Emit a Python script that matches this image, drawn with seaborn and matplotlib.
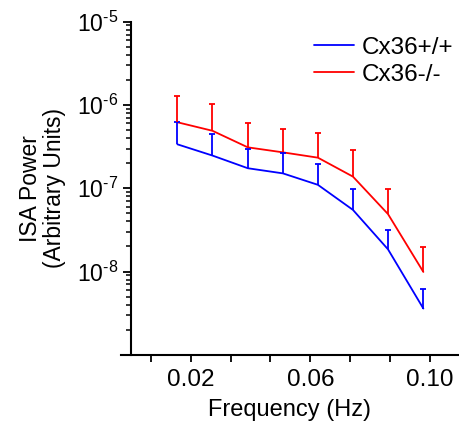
import numpy as np
import pandas as pd
import matplotlib
matplotlib.use("Agg")
import matplotlib.pyplot as plt
import matplotlib.ticker as mticker
from matplotlib.lines import Line2D
import seaborn as sns

# data
freq = [0.0156, 0.0273, 0.0391, 0.0508, 0.0625, 0.0742, 0.0859, 0.0977]
wt_mean = [3.37e-7, 2.47e-7, 1.74e-7, 1.51e-7, 1.10e-7, 5.5e-8, 1.85e-8, 3.6e-9]
wt_top = [6.3e-7, 4.5e-7, 3.0e-7, 2.68e-7, 1.94e-7, 9.7e-8, 3.13e-8, 6.2e-9]
ko_mean = [6.2e-7, 4.9e-7, 3.1e-7, 2.7e-7, 2.33e-7, 1.38e-7, 4.9e-8, 9.9e-9]
ko_top = [1.29e-6, 1.02e-6, 6.0e-7, 5.15e-7, 4.66e-7, 2.91e-7, 9.9e-8, 1.99e-8]
labels = ["Cx36+/+", "Cx36-/-"]
colors = ["#0000ff", "#ff0000"]

sns.set_style("ticks")
plt.rcParams["font.family"] = ["Liberation Sans", "DejaVu Sans"]
plt.rcParams["mathtext.fontset"] = "custom"
plt.rcParams["mathtext.rm"] = "Liberation Sans"
plt.rcParams["mathtext.it"] = "Liberation Sans"
plt.rcParams["mathtext.default"] = "regular"
plt.rcParams["axes.unicode_minus"] = False
for key in ["text.color", "axes.labelcolor", "axes.edgecolor", "xtick.color", "ytick.color"]:
    plt.rcParams[key] = "black"

df = pd.DataFrame({
    "Frequency": freq * 2,
    "Power": wt_mean + ko_mean,
    "Genotype": [labels[0]] * len(freq) + [labels[1]] * len(freq),
})

fig = plt.figure(figsize=(4.59, 4.25), dpi=100)
ax = fig.add_axes([0.263, 0.165, 0.737, 0.784])

sns.lineplot(data=df, x="Frequency", y="Power", hue="Genotype",
             palette=colors, linewidth=1.3, ax=ax, legend=False)

# one-sided (upper) error bars
for mean, top, c in [(wt_mean, wt_top, colors[0]), (ko_mean, ko_top, colors[1])]:
    mean = np.array(mean)
    err = np.array(top) - mean
    _, caps, _ = ax.errorbar(freq, mean, yerr=[np.zeros_like(err), err], fmt="none",
                             ecolor=c, elinewidth=1.3, capsize=2.2, capthick=1.3)
    caps[0].set_visible(False)

ax.set_yscale("log")
ax.set_ylim(1e-9, 1e-5)
ax.set_xlim(-0.00333, 0.1096)
ax.spines["left"].set_position(("data", 0))
ax.spines["top"].set_visible(False)
ax.spines["right"].set_visible(False)
for s in ["left", "bottom"]:
    ax.spines[s].set_linewidth(1.5)


def decade_label(v, pos):
    # hyphen in the exponent, like the original figure
    n = int(round(np.log10(v)))
    return "$10^{\u2010%d}$" % abs(n) if n < 0 else "$10^{%d}$" % n


ax.yaxis.set_major_locator(mticker.FixedLocator([1e-8, 1e-7, 1e-6, 1e-5]))
ax.yaxis.set_major_formatter(mticker.FuncFormatter(decade_label))
ax.yaxis.set_minor_locator(mticker.LogLocator(base=10, subs=np.arange(2, 10), numticks=20))
ax.yaxis.set_minor_formatter(mticker.NullFormatter())

ax.xaxis.set_major_locator(mticker.FixedLocator([0.02, 0.06, 0.10]))
ax.xaxis.set_major_formatter(mticker.FormatStrFormatter("%.2f"))
ax.xaxis.set_minor_locator(mticker.FixedLocator(
    [0.00667, 0.03333, 0.04667, 0.07333, 0.08667]))

ax.tick_params(axis="y", which="major", length=6, width=1.3, labelsize=16.5, pad=3)
ax.tick_params(axis="y", which="minor", length=3.5, width=1.1)
ax.tick_params(axis="x", which="both", length=5, width=1.3, labelsize=17.5, pad=5)

ax.set_xlabel("Frequency (Hz)", fontsize=17, labelpad=6)
ax.set_ylabel("ISA Power\n(Arbitrary Units)", fontsize=16.5, labelpad=8,
              linespacing=1.05)

handles = [Line2D([], [], color=c, linewidth=1.3) for c in colors]
ax.legend(handles, labels, frameon=False, fontsize=17.5, loc="upper left",
          bbox_to_anchor=(0.571, 0.955), handlelength=1.65, handletextpad=0.3,
          labelspacing=0.2, borderpad=0, borderaxespad=0)

fig.savefig("out.png", dpi=100)
